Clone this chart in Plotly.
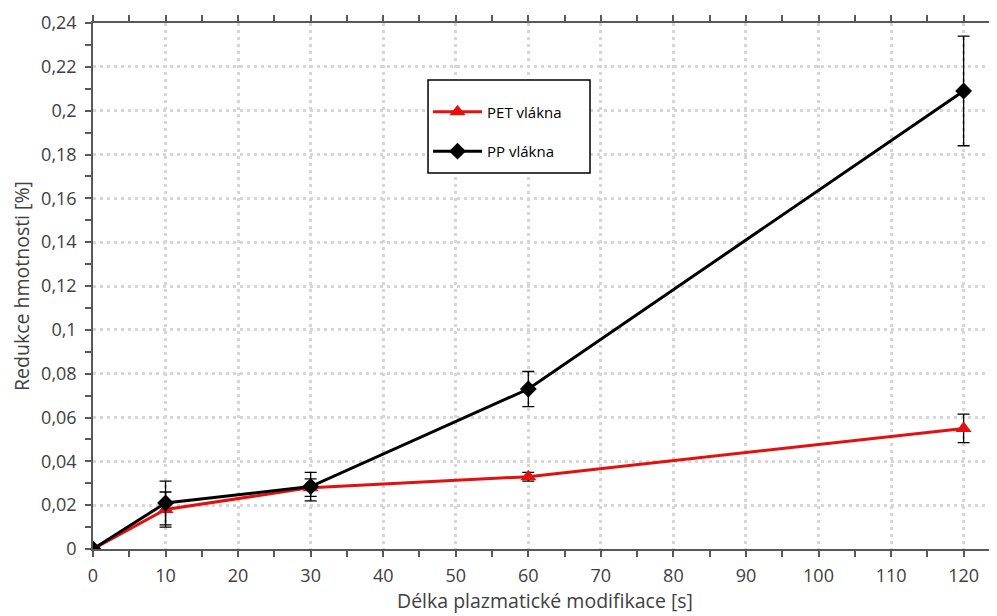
import plotly.graph_objects as go

time_s = [0, 10, 30, 60, 120]
pet_values = [0.0, 0.018, 0.028, 0.033, 0.055]
pet_errors = [0.0, 0.008, 0.004, 0.002, 0.0065]
pp_values = [0.0, 0.021, 0.0285, 0.073, 0.209]
pp_errors = [0.0, 0.010, 0.0065, 0.008, 0.025]

x_ticks = [0, 10, 20, 30, 40, 50, 60, 70, 80, 90, 100, 110, 120]
y_ticks = [0, 0.02, 0.04, 0.06, 0.08, 0.1, 0.12, 0.14, 0.16, 0.18, 0.2, 0.22, 0.24]
y_tick_labels = ["0", "0,02", "0,04", "0,06", "0,08", "0,1", "0,12", "0,14",
                 "0,16", "0,18", "0,2", "0,22", "0,24"]

FONT = "Open Sans, Liberation Sans, sans-serif"
TXT = "#404040"
AX = "#595959"

fig = go.Figure()
fig.add_trace(go.Scatter(
    x=time_s, y=pet_values, name="PET vlákna", mode="lines+markers",
    line=dict(color="#e31010", width=3),
    marker=dict(symbol="triangle-up", size=14, color="#e31010"),
    error_y=dict(type="data", array=pet_errors, visible=True, color="black",
                 thickness=1.3, width=6),
    legendgroup="a",
))
fig.add_trace(go.Scatter(
    x=time_s, y=pp_values, name="PP vlákna", mode="lines+markers",
    line=dict(color="black", width=3),
    marker=dict(symbol="diamond", size=13, color="black"),
    error_y=dict(type="data", array=pp_errors, visible=True, color="black",
                 thickness=1.3, width=6),
    legendgroup="b",
))

# legend frame drawn as a shape so its size matches the reference
fig.add_shape(type="rect", xref="paper", yref="paper",
              x0=0.3706, x1=0.5498, y0=0.7148, y1=0.8916,
              line=dict(color="black", width=1.5), fillcolor="white", layer="above")

# the page body has an 8px margin, so the figure is offset by 8px
fig.update_layout(
    width=989, height=608,
    margin=dict(l=85, r=0, t=15, b=67),
    paper_bgcolor="white", plot_bgcolor="white",
    font=dict(family=FONT, size=18, color=TXT),
    showlegend=True,
    legend=dict(
        x=0.3706, y=0.892, xanchor="left", yanchor="top",
        borderwidth=0, bgcolor="rgba(0,0,0,0)",
        font=dict(family=FONT, size=15, color="black"),
        title=dict(text=" ", font=dict(size=12)),
        tracegroupgap=17, itemwidth=49,
    ),
)
fig.update_xaxes(
    range=[0, 124.6], tickvals=x_ticks, ticktext=[str(v) for v in x_ticks],
    showline=True, linecolor=AX, linewidth=1.5, mirror="ticks",
    ticks="outside", ticklen=6, tickcolor=AX, tickwidth=1.5,
    minor=dict(dtick=5, tick0=0, ticks="outside", ticklen=6, tickcolor=AX,
               tickwidth=1.5, showgrid=False),
    showgrid=True, gridcolor="#d6d6d6", gridwidth=2.5, griddash="3px,4px",
    zeroline=False, ticklabelstandoff=4,
    title=dict(text="Délka plazmatické modifikace [s]", standoff=8,
               font=dict(family=FONT, size=19.5, color=TXT)),
    tickfont=dict(family=FONT, size=18, color=TXT),
)
fig.update_yaxes(
    range=[0, 0.24], tickvals=y_ticks, ticktext=y_tick_labels,
    showline=True, linecolor=AX, linewidth=1.5,
    ticks="outside", ticklen=6, tickcolor=AX, tickwidth=1.5,
    minor=dict(dtick=0.01, tick0=0, ticks="outside", ticklen=6, tickcolor=AX,
               tickwidth=1.5, showgrid=False),
    showgrid=True, gridcolor="#d6d6d6", gridwidth=2.5, griddash="3px,4px",
    zeroline=False, ticklabelstandoff=5,
    title=dict(text="Redukce hmotnosti [%]", standoff=6,
               font=dict(family=FONT, size=19.5, color=TXT)),
    tickfont=dict(family=FONT, size=18, color=TXT),
)

fig.write_html("out.html")
